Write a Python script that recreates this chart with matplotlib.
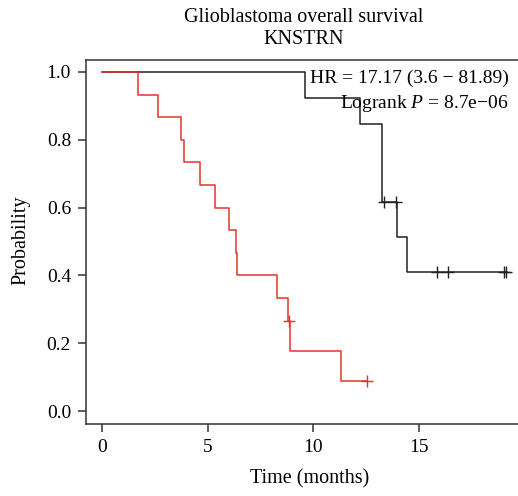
import matplotlib.pyplot as plt

# Kaplan-Meier steps (time in months, survival after step)
low_times = [0.0, 1.70, 2.64, 3.74, 3.90, 4.64, 5.36, 6.00, 6.33, 6.40, 8.26, 8.82, 8.90, 11.31, 12.53]
low_surv = [1.0, 0.933, 0.867, 0.800, 0.733, 0.667, 0.600, 0.533, 0.467, 0.400, 0.333, 0.267, 0.178, 0.089, 0.089]
low_censor_t = [8.87, 12.53]
low_censor_s = [0.267, 0.089]

high_times = [0.0, 9.61, 12.21, 13.23, 13.27, 13.94, 14.43, 19.15]
high_surv = [1.0, 0.923, 0.846, 0.769, 0.615, 0.513, 0.410, 0.410]
high_censor_t = [13.35, 13.90, 15.84, 16.39, 19.04, 19.10]
high_censor_s = [0.615, 0.615, 0.410, 0.410, 0.410, 0.410]

xticks = [0, 5, 10, 15]
yticks = [0.0, 0.2, 0.4, 0.6, 0.8, 1.0]

red = "#e3342a"
black = "#222222"

plt.rcParams["font.family"] = ["Liberation Serif", "DejaVu Serif"]
plt.rcParams["mathtext.fontset"] = "custom"
plt.rcParams["mathtext.it"] = "Liberation Serif:italic"
plt.rcParams["mathtext.rm"] = "Liberation Serif"

W, H = 518, 496
fig = plt.figure(figsize=(W / 100, H / 100), dpi=100)
ax = fig.add_axes([86 / W, 72 / H, (522 - 86) / W, 364 / H])

# black first so the red curve sits on top where they overlap
ax.step(high_times, high_surv, where="post", color=black, lw=1.1)
ax.plot(high_censor_t, high_censor_s, "+", color=black, ms=8, mew=1.0)
ax.step(low_times, low_surv, where="post", color=red, lw=1.1)
ax.plot(low_censor_t, low_censor_s, "+", color=red, ms=8, mew=1.0)

ax.set_xlim(-0.76, (522 - 102) / 21.13)
ax.set_ylim(-0.038, 1.035)
ax.set_xticks(xticks)
ax.set_yticks(yticks)
ax.set_xticklabels([str(t) for t in xticks])
ax.set_yticklabels([f"{t:.1f}" for t in yticks])
ax.tick_params(direction="out", length=5.8, width=1.1, labelsize=14, pad=5, color="#333333")
for side in ["left", "bottom", "top"]:
    ax.spines[side].set_linewidth(1.1)
    ax.spines[side].set_color("#333333")
ax.spines["right"].set_visible(False)

ax.set_xlabel("Time (months)", fontsize=14.5, va="center")
ax.xaxis.set_label_coords(310 / W, 1 - 479 / H, transform=fig.transFigure)
ax.set_ylabel("Probability", fontsize=14.5, va="center")
ax.yaxis.set_label_coords(21 / W, 1 - 240 / H, transform=fig.transFigure)

fig.text(304 / W, 1 - 17 / H, "Glioblastoma overall survival", ha="center", va="center", fontsize=14.5)
fig.text(304 / W, 1 - 40 / H, "KNSTRN", ha="center", va="center", fontsize=14.5)

fig.text(509 / W, 1 - 78 / H, "HR = 17.17 (3.6 \u2212 81.89)", ha="right", va="center", fontsize=14)
fig.text(509 / W, 1 - 104 / H, "Logrank $P$ = 8.7e\u221206", ha="right", va="center", fontsize=14)

fig.savefig("out.png", dpi=100)
